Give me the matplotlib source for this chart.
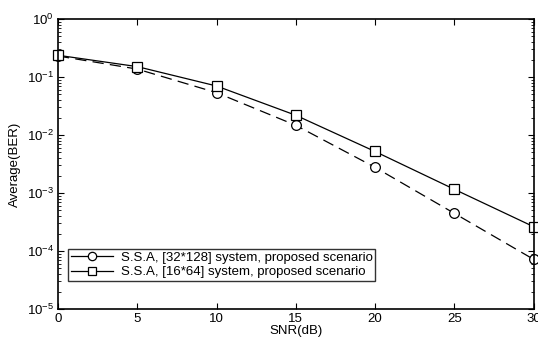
import matplotlib
matplotlib.use('Agg')
import matplotlib.pyplot as plt
from matplotlib.lines import Line2D

plt.rcParams['font.family'] = ['Liberation Sans', 'DejaVu Sans']

snr = [0, 5, 10, 15, 20, 25, 30]
ber_32x128 = [0.23, 0.137, 0.0537, 0.0147, 0.00277, 4.47e-4, 7.2e-5]
ber_16x64 = [0.237, 0.151, 0.070, 0.0219, 0.0052, 0.00116, 2.63e-4]
labels = ['S.S.A, [32*128] system, proposed scenario',
          'S.S.A, [16*64] system, proposed scenario']

fs = 9.5
fig = plt.figure(figsize=(5.38, 3.43), dpi=100)
ax = fig.add_axes([58 / 538, 1 - 309 / 343, (533.5 - 58) / 538, (309 - 19) / 343])

ax.semilogy(snr, ber_32x128, color='k', lw=0.9, ls=(0, (9, 5)), marker='o',
            ms=7, mfc='white', mec='k', mew=0.9, clip_on=False)
ax.semilogy(snr, ber_16x64, color='k', lw=0.9, ls='-', marker='s',
            ms=7, mfc='white', mec='k', mew=0.9, clip_on=False)

ax.set_xlim(0, 30)
ax.set_ylim(1e-5, 1)
ax.set_xticks([0, 5, 10, 15, 20, 25, 30])
ax.set_yticks([1e-5, 1e-4, 1e-3, 1e-2, 1e-1, 1])
ax.tick_params(which='both', direction='in', top=True, right=True, labelsize=fs)
ax.tick_params(which='major', length=4, width=0.8, pad=3)
ax.tick_params(which='minor', length=2, width=0.6)
ax.tick_params(axis='x', which='minor', bottom=False, top=False)
for s in ax.spines.values():
    s.set_linewidth(1.2)

ax.set_xlabel('SNR(dB)', fontsize=fs, labelpad=0)
ax.set_ylabel('Average(BER)', fontsize=fs, labelpad=4)

handles = [
    Line2D([], [], color='k', lw=0.9, marker='o', ms=6, mfc='white', mec='k', mew=0.9),
    Line2D([], [], color='k', lw=0.9, marker='s', ms=6, mfc='white', mec='k', mew=0.9),
]
leg = ax.legend(handles, labels, loc='lower left', bbox_to_anchor=(0.021, 0.097),
                fontsize=fs, frameon=True, fancybox=False, edgecolor='k',
                borderpad=0.2, handlelength=3.2, handletextpad=0.6,
                labelspacing=0.15, borderaxespad=0)
leg.get_frame().set_linewidth(1.0)

fig.savefig('out.png', dpi=100)
